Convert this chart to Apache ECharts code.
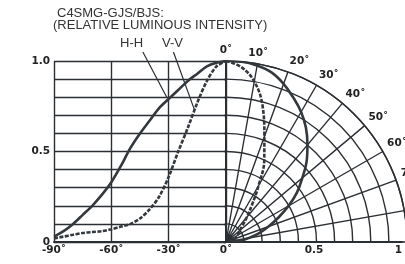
<!DOCTYPE html>
<html>
<head>
<meta charset="utf-8">
<script src="https://cdn.jsdelivr.net/npm/echarts@6/dist/echarts.min.js"></script>
<style>
  html, body { margin: 0; padding: 0; background: #fff; }
  #chart { width: 405px; height: 264px; }
</style>
</head>
<body>
<div id="chart"></div>
<script>
// left half: cartesian, angle (deg) vs relative intensity
const leftAngles = [-90, -85, -80, -75, -70, -65, -60, -55, -50, -45, -40, -35, -30, -25, -20, -15, -10, -5, 0];
const hhLeft = [0.03, 0.06, 0.1, 0.15, 0.2, 0.26, 0.33, 0.42, 0.52, 0.6, 0.67, 0.74, 0.79, 0.84, 0.89, 0.93, 0.97, 0.99, 1.0];
const vvLeft = [0.02, 0.03, 0.04, 0.05, 0.055, 0.06, 0.07, 0.085, 0.1, 0.13, 0.18, 0.25, 0.36, 0.5, 0.63, 0.77, 0.89, 0.97, 1.0];

// right half: polar, same angles measured from the axis
const rightAngles = [0, 5, 10, 15, 20, 25, 30, 35, 40, 45, 50, 55, 60, 65, 70, 75, 80, 85, 90];
const hhRight = [1.0, 1.0, 0.99, 0.97, 0.93, 0.88, 0.83, 0.77, 0.7, 0.63, 0.55, 0.48, 0.4, 0.32, 0.25, 0.19, 0.13, 0.08, 0.03];
const vvRight = [1.0, 0.97, 0.9, 0.78, 0.62, 0.5, 0.36, 0.25, 0.18, 0.13, 0.1, 0.085, 0.07, 0.06, 0.055, 0.05, 0.04, 0.03, 0.02];

const xTicks = [-90, -60, -30, 0];
const yTickLabels = { 0: '0', 0.5: '0.5', 1: '1.0' };

const ink = '#2b2f34';
const curve = '#33383d';
const labelFont = { color: '#222', fontFamily: 'DejaVu Sans', fontWeight: 'bold', fontSize: 10.5 };

const chart = echarts.init(document.getElementById('chart'));

const zip = (a, b) => a.map((v, i) => [v, b[i]]);
const zipPolar = (angles, vals) => angles.map((a, i) => [vals[i], a]);

chart.setOption({
  animation: false,
  grid: [
    { left: 54, top: 61, width: 172, height: 181 },
    { left: 226, top: 61, width: 181, height: 181 }
  ],
  xAxis: [
    {
      gridIndex: 0, type: 'value', min: -90, max: 0, interval: 30,
      axisLine: { lineStyle: { color: ink, width: 2 } },
      axisTick: { show: false },
      axisLabel: Object.assign({ margin: 3, formatter: v => xTicks.includes(v) ? v + '˚' : '' }, labelFont),
      splitLine: { show: true, lineStyle: { color: ink, width: 1.4 } }
    },
    {
      gridIndex: 1, type: 'value', min: 0, max: 1, interval: 0.5,
      axisLine: { lineStyle: { color: ink, width: 2 } },
      axisTick: { show: false },
      axisLabel: Object.assign({ margin: 3, alignMaxLabel: 'right', formatter: v => v === 0 ? '' : String(v) }, labelFont),
      splitLine: { show: false }
    }
  ],
  yAxis: [
    {
      gridIndex: 0, type: 'value', min: 0, max: 1, interval: 0.1,
      axisLine: { show: true, lineStyle: { color: ink, width: 2 } },
      axisTick: { show: true, length: 2, lineStyle: { color: ink, width: 1.4 } },
      axisLabel: Object.assign({ margin: 4, formatter: v => yTickLabels[Math.round(v * 10) / 10] || '' }, labelFont),
      splitLine: { show: true, lineStyle: { color: ink, width: 1.4 } }
    },
    { gridIndex: 1, type: 'value', min: 0, max: 1, show: false }
  ],
  polar: { center: [226, 242], radius: 181 },
  angleAxis: {
    type: 'value', min: 0, max: 90, interval: 10,
    startAngle: 90, endAngle: 0, clockwise: true,
    axisLine: { lineStyle: { color: ink, width: 1.4 } },
    axisTick: { show: false },
    axisLabel: Object.assign({ margin: 5, formatter: '{value}˚' }, labelFont),
    splitLine: { show: true, lineStyle: { color: ink, width: 1.4 } }
  },
  radiusAxis: {
    type: 'value', min: 0, max: 1, interval: 0.1,
    axisLine: { show: false },
    axisTick: { show: false },
    axisLabel: { show: false },
    splitLine: { show: true, lineStyle: { color: ink, width: 1.4 } }
  },
  series: [
    {
      name: 'H-H', type: 'line', xAxisIndex: 0, yAxisIndex: 0, smooth: 0.3, showSymbol: false,
      data: zip(leftAngles, hhLeft), lineStyle: { color: curve, width: 2.6 }, z: 5
    },
    {
      name: 'V-V', type: 'line', xAxisIndex: 0, yAxisIndex: 0, smooth: 0.3, showSymbol: false,
      data: zip(leftAngles, vvLeft), lineStyle: { color: curve, width: 2.6, type: [4, 1.5] }, z: 5
    },
    {
      name: 'H-H', type: 'line', coordinateSystem: 'polar', smooth: 0.4, showSymbol: false,
      data: zipPolar(rightAngles, hhRight), lineStyle: { color: curve, width: 2.6 }, z: 5
    },
    {
      name: 'V-V', type: 'line', coordinateSystem: 'polar', smooth: 0.4, showSymbol: false,
      data: zipPolar(rightAngles, vvRight), lineStyle: { color: curve, width: 2.6, type: [4, 1.5] }, z: 5
    }
  ]
});

// title, legend labels and leader lines
const px = p => chart.convertToPixel({ gridIndex: 0 }, p);
const hhStart = px([-43.5, 1.05]), hhEnd = px([-31, 0.8]);
const vvStart = px([-27.5, 1.05]), vvEnd = px([-16.5, 0.73]);
const textStyle = { fill: '#333', font: '13px "Liberation Sans"' };

chart.setOption({
  graphic: [
    { type: 'text', left: 57, top: 7, style: Object.assign({ text: 'C4SMG-GJS/BJS:' }, textStyle) },
    { type: 'text', left: 53, top: 19, style: Object.assign({ text: '(RELATIVE LUMINOUS INTENSITY)' }, textStyle) },
    { type: 'text', left: 120, top: 37, style: Object.assign({ text: 'H-H' }, textStyle) },
    { type: 'text', left: 162, top: 37, style: Object.assign({ text: 'V-V' }, textStyle) },
    { type: 'line', shape: { x1: hhStart[0], y1: hhStart[1], x2: hhEnd[0], y2: hhEnd[1] }, style: { stroke: ink, lineWidth: 1.2 } },
    { type: 'line', shape: { x1: vvStart[0], y1: vvStart[1], x2: vvEnd[0], y2: vvEnd[1] }, style: { stroke: ink, lineWidth: 1.2 } }
  ]
});
</script>
</body>
</html>
